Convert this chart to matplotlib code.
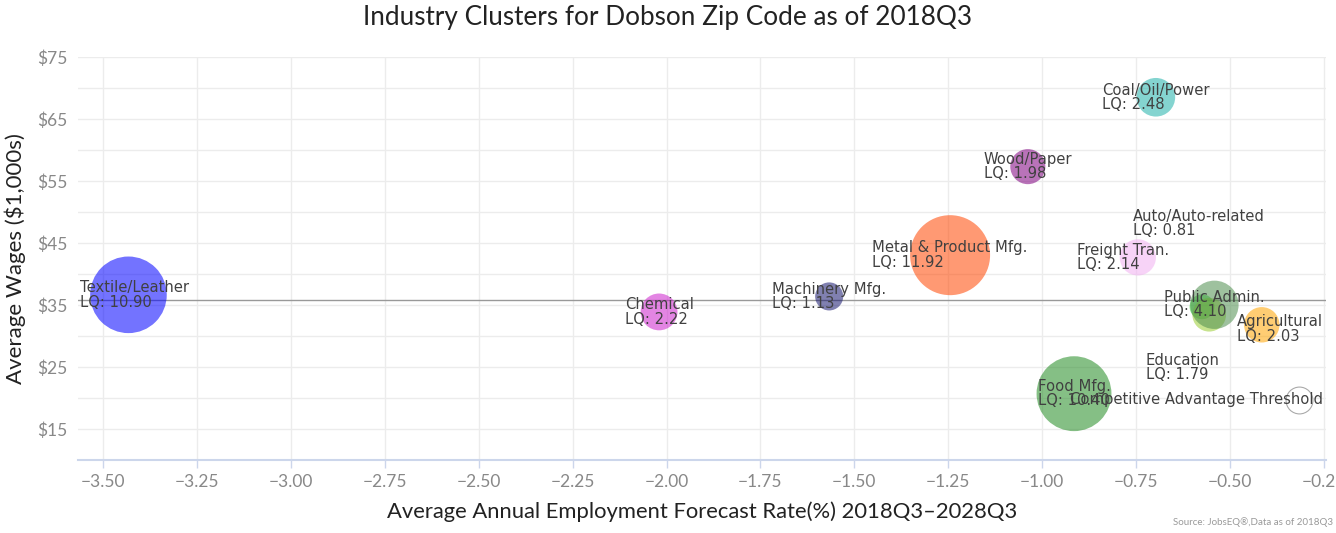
import numpy as np
import matplotlib
matplotlib.use("Agg")
import matplotlib.pyplot as plt
from matplotlib.ticker import MultipleLocator, FixedLocator

# cluster data
clusters = ["Textile/Leather", "Chemical", "Machinery Mfg.", "Metal & Product Mfg.",
            "Wood/Paper", "Coal/Oil/Power", "Freight Tran.", "Auto/Auto-related",
            "Education", "Public Admin.", "Agricultural", "Food Mfg."]
growth = [-3.433, -2.02, -1.567, -1.245, -1.038, -0.697, -0.745, -0.574,
          -0.555, -0.541, -0.415, -0.915]
wages = [36.66, 33.9, 36.4, 43.06, 57.35, 68.55, 42.7, 34.73, 33.44, 35.05, 31.82, 20.7]
lq = [10.90, 2.22, 1.13, 11.92, 1.98, 2.48, 2.14, 0.81, 1.79, 4.10, 2.03, 10.40]

threshold_name = "Competitive Advantage Threshold"
threshold_x = -0.316
threshold_y = 19.73
threshold_lq = 1.0

avg_wage = 35.8

colors = ["#0000ff", "#cc22cc", "#191970", "#ff4500", "#800080", "#20b2aa",
          "#f2b0f2", "#32cd32", "#9acd32", "#4f8f4f", "#ffa500", "#228b22"]
# label nudges in points (a few labels sit away from their bubble)
label_shift = {"Auto/Auto-related": (-2, 60), "Education": (-19, -38),
               "Freight Tran.": (-11, 0), "Agricultural": (14, -3)}


def bubble_size(z):
    # radius (px) ~ sqrt(50 + 130*z), converted to scatter area in pt^2
    r = np.sqrt(50 + 130 * np.asarray(z))
    return (2 * r * 0.72) ** 2


fig = plt.figure(figsize=(13.36, 5.33), dpi=100)
ax = fig.add_axes([0.0586, 0.137, 0.9339, 0.7555])

ax.set_xlim(-3.5666, -0.244)
ax.set_ylim(10, 75)

ax.xaxis.set_major_locator(MultipleLocator(0.25))
ax.yaxis.set_major_locator(FixedLocator([15, 25, 35, 45, 55, 65, 75]))
ax.yaxis.set_minor_locator(FixedLocator([20, 30, 40, 50, 60, 70]))
ax.grid(True, which="both", color="#ececec", lw=1, zorder=0)
ax.set_axisbelow(True)
ax.xaxis.set_major_formatter(lambda v, p: f"{v:.2f}".replace("-", "\u2212"))
ax.yaxis.set_major_formatter(lambda v, p: f"${v:.0f}")

for s in ["top", "right", "left"]:
    ax.spines[s].set_visible(False)
ax.spines["bottom"].set_color("#ccd6eb")
ax.spines["bottom"].set_linewidth(1.5)
ax.tick_params(axis="x", colors="#ccd6eb", length=6, width=1, labelcolor="#888888",
               labelsize=12.5, pad=4)
ax.tick_params(axis="y", which="both", length=0, labelcolor="#888888", labelsize=12.5, pad=8)
for lab in ax.get_xticklabels() + ax.get_yticklabels():
    lab.set_family("Lato")

ax.axhline(avg_wage, color="#999999", lw=1, zorder=1)

for i in range(len(clusters)):
    ax.scatter(growth[i], wages[i], s=bubble_size(lq[i]), color=colors[i],
               alpha=0.55, edgecolors="none", zorder=2 + i)
ax.scatter(threshold_x, threshold_y, s=bubble_size(threshold_lq), facecolor="white",
           edgecolors="#aaaaaa", linewidths=0.8, zorder=20)

texts = []
for i, name in enumerate(clusters):
    dx, dy = label_shift.get(name, (0, 0))
    t = ax.annotate(f"{name}\nLQ: {lq[i]:.2f}", (growth[i], wages[i]), xytext=(dx, dy),
                    textcoords="offset points", ha="center", va="center",
                    multialignment="left", fontsize=10.6, color="#404040",
                    linespacing=0.95, zorder=30)
    texts.append(t)
t = ax.annotate(threshold_name, (threshold_x, threshold_y), textcoords="offset points",
                xytext=(0, 0), ha="center", va="center", fontsize=10.6, color="#404040",
                zorder=30)
texts.append(t)

# keep labels inside the plot area
fig.canvas.draw()
r = fig.canvas.get_renderer()
box = ax.get_window_extent(r)
for t in texts:
    bb = t.get_window_extent(r)
    dx, dy = t.xyann
    if bb.x1 > box.x1 - 2:
        dx -= (bb.x1 - box.x1 + 3) * 72 / fig.dpi
    if bb.x0 < box.x0 + 2:
        dx += (box.x0 - bb.x0 + 2) * 72 / fig.dpi
    t.xyann = (dx, dy)

ax.set_xlabel("Average Annual Employment Forecast Rate(%) 2018Q3\u20132028Q3",
              fontsize=15.8, family="Lato", color="#222222", labelpad=8)
ax.set_ylabel("Average Wages ($1,000s)", fontsize=16, family="Lato", color="#222222",
              labelpad=8)
fig.suptitle("Industry Clusters for Dobson Zip Code as of 2018Q3", y=0.99,
             fontsize=18.8, family="Lato", color="#222222")
fig.text(0.9975, 0.012, "Source: JobsEQ\u00ae,Data as of 2018Q3", ha="right", va="bottom",
         fontsize=7, color="#999999", family="Lato")

fig.savefig("out.png", dpi=100)
